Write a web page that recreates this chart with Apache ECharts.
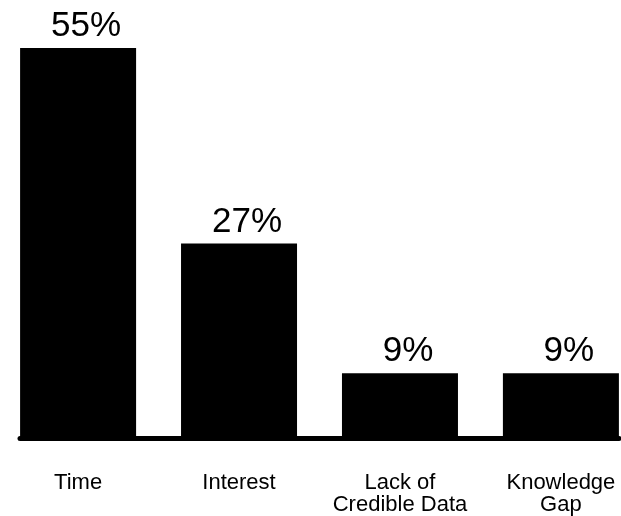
<!DOCTYPE html>
<html>
<head>
<meta charset="utf-8">
<script src="https://cdn.jsdelivr.net/npm/echarts@6/dist/echarts.min.js"></script>
<style>
  html, body { margin: 0; padding: 0; background: #fff; }
  #chart { width: 621px; height: 516px; }
</style>
</head>
<body>
<div id="chart"></div>
<script>
// barriers and their share (bar heights)
const categories = ["Time", "Interest", "Lack of\nCredible Data", "Knowledge\nGap"];
const shares = [54.5, 27.2, 9.1, 9.1];

const positions = categories.map((c, i) => i); // slot of each barrier on the x axis

const chart = echarts.init(document.getElementById("chart"));

const option = {
  backgroundColor: "#fff",
  animation: false,
  grid: { left: 20, right: 2, top: 8.6, bottom: 77.5 },
  xAxis: {
    // value axis so the first/last bars sit flush with the ends of the baseline
    type: "value",
    min: -0.361,
    max: 3.361,
    splitLine: { show: false },
    axisLine: { show: true, onZero: false, lineStyle: { color: "#000", width: 5 } },
    axisTick: { show: false },
    axisLabel: {
      customValues: positions,
      formatter: (v) => categories[Math.round(v)],
      color: "#000",
      fontFamily: "Liberation Sans",
      fontSize: 22,
      lineHeight: 22,
      margin: 33,
    },
  },
  yAxis: { type: "value", min: 0, max: 60, show: false },
  series: [
    {
      type: "bar",
      data: positions.map((x, i) => [x, shares[i]]),
      barWidth: 116,
      itemStyle: { color: "#000" },
      label: {
        show: true,
        position: "top",
        distance: 4,
        offset: [8, 0],
        color: "#000",
        fontFamily: "Liberation Sans",
        fontSize: 35,
        formatter: (p) => Math.round(p.value[1]) + "%",
      },
    },
  ],
};

chart.setOption(option);
</script>
</body>
</html>
